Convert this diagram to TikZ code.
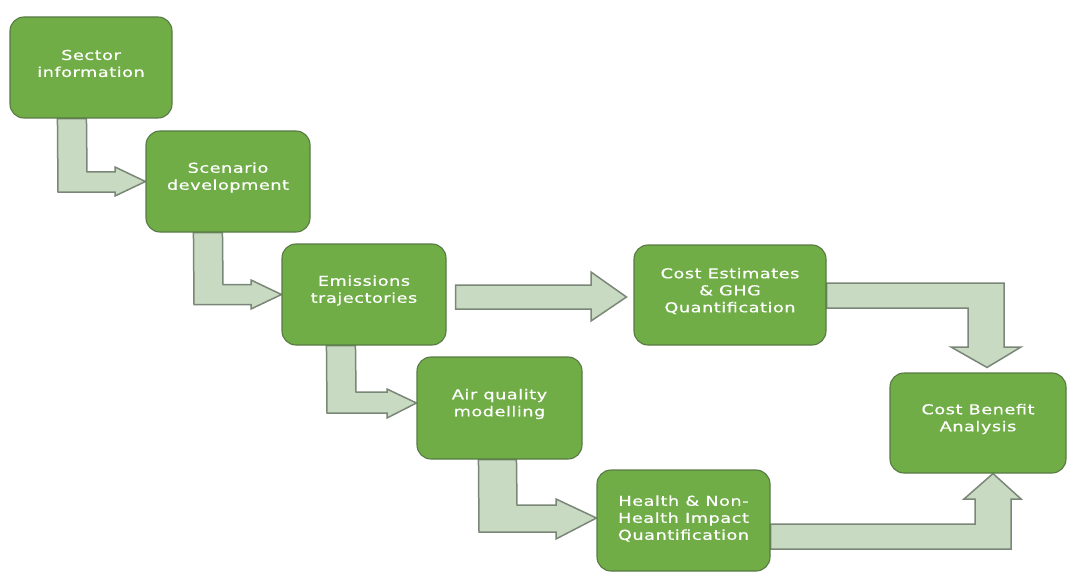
\documentclass[tikz,border=0pt]{standalone}
\usepackage{fontspec}
\setmainfont{DejaVu Sans}[FakeStretch=1.3,LetterSpace=4,FakeBold=0.6]
\usetikzlibrary{calc,backgrounds}
\definecolor{boxgreen}{HTML}{70AD47}
\definecolor{boxline}{HTML}{587A45}
\definecolor{arrfill}{HTML}{C8DBC2}
\definecolor{arrline}{HTML}{7A8677}
\tikzset{
  box/.style={draw=boxline, line width=1.1pt, fill=boxgreen, rounded corners=14pt, inner sep=0pt},
  txt/.style={text=white, align=center, font=\fontsize{13.6}{17}\selectfont, inner sep=0pt},
  arr/.style={draw=arrline, fill=arrfill, line width=1.5pt, line join=miter}
}
\begin{document}
\begin{tikzpicture}[x=1pt,y=-1pt]
\useasboundingbox (0,0) rectangle (1067,572);
% boxes
\node[box, minimum width=162, minimum height=101] (s1) at (91,67.5) {};
\node[box, minimum width=164, minimum height=101] (s2) at (228,181.5) {};
\node[box, minimum width=164, minimum height=101] (s3) at (364,294.5) {};
\node[box, minimum width=165, minimum height=102] (s4) at (499.5,408) {};
\node[box, minimum width=173, minimum height=101] (s5) at (683.5,520.5) {};
\node[box, minimum width=192, minimum height=100] (s6) at (730,295) {};
\node[box, minimum width=176, minimum height=100] (s7) at (978,423) {};
% texts
\node[txt] (t1) at ([yshift=4]s1.center) {Sector\\information};
\node[txt] (t2) at ([yshift=4]s2.center) {Scenario\\development};
\node[txt] (t3) at ([yshift=4]s3.center) {Emissions\\trajectories};
\node[txt] (t4) at ([yshift=4]s4.center) {Air quality\\modelling};
\node[txt] (t5) at ([yshift=2]s5.center) {Health \& Non-\\Health Impact\\Quantification};
\node[txt] (t6) at ([yshift=4]s6.center) {Cost Estimates\\\& GHG\\Quantification};
\node[txt] (t7) at ([yshift=4]s7.center) {Cost Benefit\\Analysis};
% arrows
\begin{scope}[on background layer]
\draw[arr] ([xshift=48]s1.south west) -- (58,192) -- (115,192) -- (115,196) -- (s2.west)
  -- (115,167) -- (115,172) -- (87,172) -- ([xshift=77]s1.south west) -- cycle;
\draw[arr] ([xshift=48]s2.south west) -- (194,304.5) -- (251,304.5) -- (251,309) -- (s3.west)
  -- (251,280) -- (251,284.5) -- (223,284.5) -- ([xshift=77]s2.south west) -- cycle;
\draw[arr] ([xshift=45]s3.south west) -- (327,413) -- (387,413) -- (387,418) -- ([yshift=5]s4.west)
  -- (387,389) -- (387,392) -- (356,392) -- ([xshift=74]s3.south west) -- cycle;
\draw[arr] ([xshift=62]s4.south west) -- (479,532) -- (556,532) -- (556,539) -- ([yshift=2.5]s5.west)
  -- (556,499) -- (556,505) -- (517,505) -- ([xshift=100]s4.south west) -- cycle;
\draw[arr] ($(s3.east)+(9,-9.5)$) -- (591,285) -- (591,272) -- ($(s6.west)+(-7,2)$)
  -- (591,321) -- (591,309) -- ($(s3.east)+(9,14.5)$) -- cycle;
\draw[arr] ([yshift=12]s6.east) -- (1004,283) -- (1004,347) -- (1021,347) -- ($(s7.north)+(9,-5)$)
  -- (951,347) -- (968,347) -- (968,308) -- ([yshift=-13]s6.east) -- cycle;
\draw[arr] ([yshift=-3.5]s5.east) -- (975,524) -- (975,499) -- (964,499) -- ([xshift=15]s7.south)
  -- (1021,499) -- (1011,499) -- (1011,549) -- ([yshift=-28.5]s5.east) -- cycle;
\end{scope}
\end{tikzpicture}
\end{document}
